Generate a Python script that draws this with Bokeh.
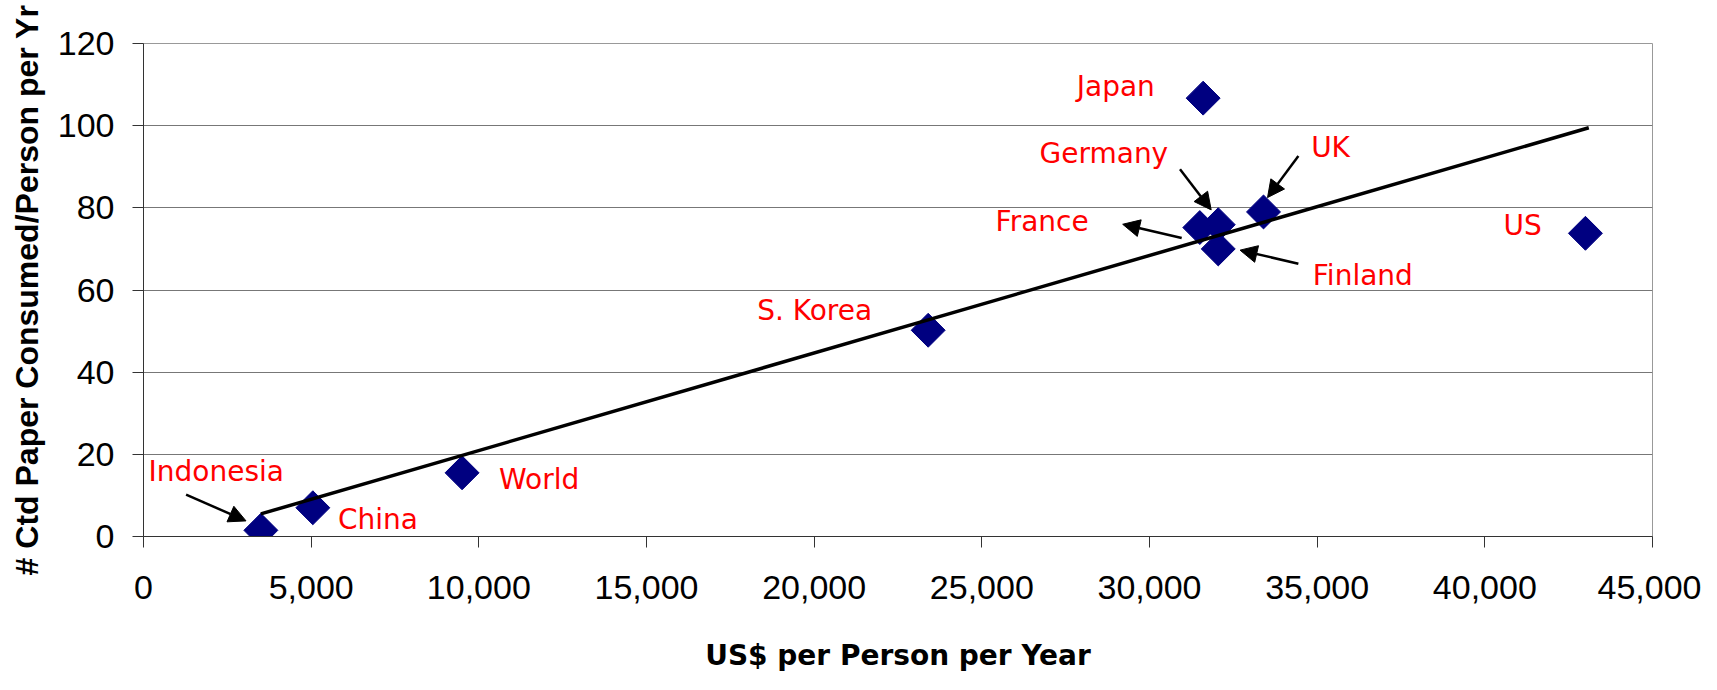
import numpy as np
from bokeh.plotting import figure
from bokeh.models import (ColumnDataSource, FixedTicker, NumeralTickFormatter, LabelSet,
                          Arrow, NormalHead, Range1d)
from bokeh.core.properties import value
from bokeh.embed import file_html
from bokeh.resources import INLINE

# ---- data ----
countries = ["Indonesia", "China", "World", "S. Korea", "Japan", "France",
             "Germany", "Finland", "UK", "US"]
gdp_per_person = [3500, 5050, 9500, 23400, 31600, 31500, 32050, 32050, 33400, 43000]
paper_per_person = [1.5, 7.0, 15.5, 50.2, 106.7, 75.2, 75.9, 70.0, 79.0, 73.8]

# label anchor points (data coordinates)
label_x = [150, 5800, 10600, 18300, 27830, 25410, 26720, 34870, 34820, 40560]
label_y = [13.6, 1.8, 11.6, 52.6, 107.2, 74.3, 91.0, 61.2, 92.4, 73.4]

# pointer arrows (data coordinates): Indonesia, France, Germany, UK, Finland
arrow_x0 = [1270, 30960, 30910, 34440, 34440]
arrow_y0 = [10.2, 72.65, 89.4, 92.6, 66.4]
arrow_x1 = [3057, 29200, 31840, 33520, 32700]
arrow_y1 = [3.8, 76.0, 79.5, 82.5, 69.7]

# trend line end points
trend_x = [3500, 43100]
trend_y = [5.5, 99.5]

x_ticks = [0, 5000, 10000, 15000, 20000, 25000, 30000, 35000, 40000, 45000]
y_ticks = [0, 20, 40, 60, 80, 100, 120]

# ---- figure ----
p = figure(width=1701, height=674, output_backend="svg", toolbar_location=None,
           x_range=Range1d(0, 45000), y_range=Range1d(0, 120),
           min_border_left=143, min_border_top=43, min_border_right=49,
           min_border_bottom=137)

p.background_fill_color = "white"
p.border_fill_color = "white"
p.outline_line_color = "#999999"
p.outline_line_width = 1

p.xgrid.visible = False
p.ygrid.grid_line_color = "#777777"
p.ygrid.grid_line_width = 1
p.ygrid.ticker = FixedTicker(ticks=y_ticks)

p.xaxis.ticker = FixedTicker(ticks=x_ticks)
p.yaxis.ticker = FixedTicker(ticks=y_ticks)
p.xaxis.formatter = NumeralTickFormatter(format="0,0")

for ax in (p.xaxis, p.yaxis):
    ax.axis_line_color = "#333333"
    ax.axis_line_width = 1
    ax.major_tick_line_color = "#333333"
    ax.major_tick_out = 11
    ax.major_tick_in = 0
    ax.minor_tick_line_color = None
    ax.major_label_text_font = "Liberation Sans"
    ax.major_label_text_font_size = "34px"
    ax.major_label_text_color = "black"

p.yaxis.major_label_standoff = 18
p.xaxis.major_label_standoff = 28

p.xaxis.axis_label = "US$ per Person per Year"
p.xaxis.axis_label_text_font = "DejaVu Sans"
p.xaxis.axis_label_text_font_style = "bold"
p.xaxis.axis_label_text_font_size = "28px"
p.xaxis.axis_label_text_color = "black"
p.xaxis.axis_label_standoff = 37

p.yaxis.axis_label = "# Ctd Paper Consumed/Person per Yr"
p.yaxis.axis_label_text_font = "Liberation Sans"
p.yaxis.axis_label_text_font_style = "bold"
p.yaxis.axis_label_text_font_size = "32px"
p.yaxis.axis_label_text_color = "black"
p.yaxis.axis_label_standoff = 10

# markers
src = ColumnDataSource(dict(x=gdp_per_person, y=paper_per_person, name=countries,
                            lx=label_x, ly=label_y))
p.scatter("x", "y", source=src, marker="square", angle=np.pi / 4, size=24,
          fill_color="#000080", line_color="#000080")

# trend line
p.line(trend_x, trend_y, line_color="black", line_width=3.5)

# labels
labels = LabelSet(x="lx", y="ly", text="name", source=src,
                  text_font=value("DejaVu Sans"), text_font_size=value("28px"),
                  text_color=value("#FF0000"), text_align=value("left"),
                  text_baseline=value("alphabetic"))
p.add_layout(labels)

# arrows
asrc = ColumnDataSource(dict(x0=arrow_x0, y0=arrow_y0, x1=arrow_x1, y1=arrow_y1))
p.add_layout(Arrow(x_start="x0", y_start="y0", x_end="x1", y_end="y1", source=asrc,
                   line_color="black", line_width=2.5,
                   end=NormalHead(size=17, fill_color="black", line_color="black")))

open("out.html", "w").write(file_html(p, INLINE))
